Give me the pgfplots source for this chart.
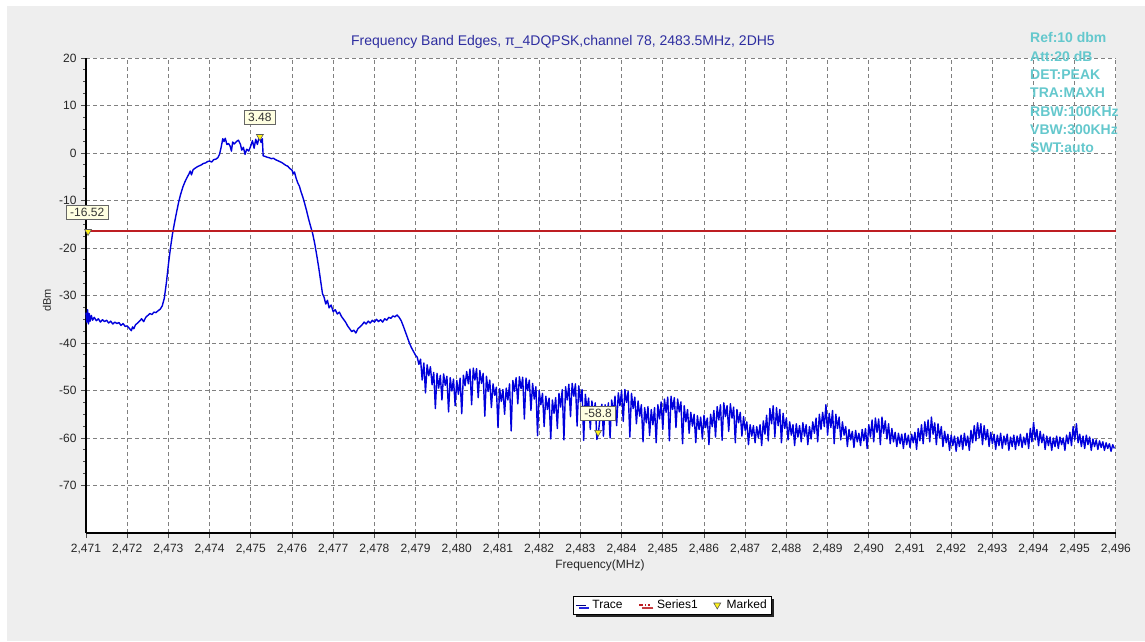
\documentclass[border=0pt]{standalone}
\usepackage{fontspec}
\setmainfont{Liberation Sans}
\usepackage{pgfplots}
\pgfplotsset{compat=1.18}
\usetikzlibrary{shadows}
\definecolor{bggray}{RGB}{238,238,238}
\definecolor{tracecol}{RGB}{0,0,220}
\definecolor{redline}{RGB}{190,30,35}
\definecolor{titleblue}{RGB}{45,45,160}
\definecolor{annotcol}{RGB}{100,200,205}
\definecolor{tipfill}{RGB}{255,255,225}
\pgfplotsset{
  trleg/.style={legend image code/.code={\draw[##1, line width=1pt, draw=blue!50!black] (0pt,0pt) -- (10pt,0pt);}},
  serleg/.style={legend image code/.code={\draw[##1, line width=1.5pt, dash pattern=on 4pt off 2pt on 1pt off 2pt] (0pt,0pt) -- (11pt,0pt);}},
  mkleg/.style={legend image code/.code={\draw[##1] plot coordinates {(4pt,0pt)};}},
}
\begin{document}
\begin{tikzpicture}
\useasboundingbox (0,0) rectangle (1145pt,641pt);
\fill[white] (0,0) rectangle (1145pt,641pt);
\fill[bggray] (7pt,0) rectangle (1145pt,635pt);
\begin{axis}[
  at={(86pt,108pt)}, anchor=south west,
  scale only axis, width=1030pt, height=475pt,
  xmin=2471, xmax=2496, ymin=-80, ymax=20,
  clip=false,
  axis lines=left,
  axis line style={-, line width=2.4pt, black},
  axis background/.style={fill=white},
  xtick={2471,2472,...,2496},
  ytick={-70,-60,...,20},
  minor x tick num=3, minor y tick num=3,
  tick align=outside, major tick length=5pt, minor tick length=3pt,
  tick style={black!70, line width=0.8pt},
  grid=major,
  major grid style={black!50, dash pattern=on 4pt off 3pt, line width=0.8pt},
  ticklabel style={font=\fontsize{12}{14}\selectfont, text=black!85},
  xticklabel style={yshift=-3pt},
  yticklabel style={xshift=-1pt},
  /pgf/number format/assume math mode=true,
  /pgf/number format/1000 sep={,},
  xlabel={Frequency(MHz)},
  xlabel style={at={(axis description cs:0.499,-0.0674)}, anchor=center, font=\fontsize{12}{14}\selectfont, text=black!85},
  ylabel={dBm},
  ylabel style={at={(axis description cs:-0.038,0.49)}, anchor=center, font=\fontsize{11}{13}\selectfont, text=black!85},
  legend style={at={(0.569,-0.1516)}, anchor=center, legend columns=3,
    draw=black, fill=white, font=\fontsize{12}{14}\selectfont, inner sep=2pt,
    drop shadow={shadow xshift=3pt, shadow yshift=-3pt, fill=black, opacity=0.85},
    /tikz/every odd column/.append style={column sep=4pt},
    /tikz/every even column/.append style={column sep=14pt}},
  legend cell align=left,
]
\addplot[tracecol, line width=1.4pt, line join=round, trleg]
coordinates {
(2471.00,-33.6) (2471.02,-35.6) (2471.04,-33.0) (2471.06,-36.0) (2471.08,-33.8) (2471.10,-35.4)
(2471.13,-34.2) (2471.16,-35.2) (2471.20,-34.6) (2471.25,-35.3) (2471.30,-34.9) (2471.35,-35.6)
(2471.40,-35.1) (2471.45,-35.5) (2471.50,-35.2) (2471.55,-35.8) (2471.60,-35.4) (2471.65,-36.0)
(2471.70,-35.6) (2471.75,-35.9) (2471.80,-35.7) (2471.85,-36.3) (2471.90,-35.9) (2471.95,-36.5)
(2472.00,-36.4) (2472.05,-36.9) (2472.10,-37.4) (2472.13,-36.6) (2472.16,-37.0) (2472.20,-36.2)
(2472.25,-35.8) (2472.30,-35.4) (2472.35,-34.9) (2472.40,-35.5) (2472.45,-34.6) (2472.50,-34.2)
(2472.55,-33.8) (2472.60,-34.0) (2472.65,-33.5) (2472.70,-33.6) (2472.75,-33.2) (2472.80,-32.9)
(2472.85,-32.2) (2472.90,-30.6) (2472.95,-27.4) (2473.00,-23.5) (2473.05,-20.0) (2473.10,-17.0)
(2473.15,-14.6) (2473.20,-12.4) (2473.25,-10.3) (2473.30,-8.6) (2473.35,-7.2) (2473.40,-6.1)
(2473.45,-5.2) (2473.50,-4.4) (2473.53,-3.8) (2473.56,-4.6) (2473.60,-3.5) (2473.65,-3.2)
(2473.70,-2.9) (2473.75,-2.7) (2473.80,-2.5) (2473.85,-2.2) (2473.90,-2.1) (2473.95,-1.8)
(2474.00,-1.7) (2474.05,-1.9) (2474.10,-1.4) (2474.15,-1.3) (2474.20,-1.0) (2474.24,-0.3)
(2474.28,1.2) (2474.32,3.0) (2474.35,2.4) (2474.38,3.1) (2474.42,1.8) (2474.46,2.0)
(2474.50,1.4) (2474.53,0.4) (2474.56,2.3) (2474.60,1.9) (2474.65,2.4) (2474.70,2.7)
(2474.75,1.8) (2474.78,0.6) (2474.82,1.2) (2474.86,-0.3) (2474.90,0.8) (2474.95,0.4)
(2475.00,1.5) (2475.04,2.6) (2475.08,1.0) (2475.12,2.9) (2475.16,1.8) (2475.20,3.3)
(2475.22,3.48) (2475.25,2.2) (2475.28,3.0) (2475.30,-0.6) (2475.34,-0.7) (2475.40,-0.9)
(2475.45,-1.0) (2475.50,-1.2) (2475.55,-1.1) (2475.60,-1.4) (2475.65,-1.6) (2475.70,-1.8)
(2475.75,-2.0) (2475.80,-2.3) (2475.85,-2.6) (2475.90,-2.8) (2475.95,-3.3) (2476.00,-3.6)
(2476.03,-4.4) (2476.06,-4.0) (2476.10,-5.3) (2476.14,-6.3) (2476.18,-7.0) (2476.22,-8.2)
(2476.26,-9.2) (2476.30,-10.4) (2476.35,-12.0) (2476.40,-13.8) (2476.45,-15.4) (2476.50,-16.9)
(2476.55,-19.0) (2476.60,-21.5) (2476.65,-24.2) (2476.70,-27.2) (2476.74,-29.6) (2476.78,-30.4)
(2476.82,-31.8) (2476.86,-31.0) (2476.90,-32.6) (2476.95,-32.0) (2477.00,-33.4) (2477.05,-33.0)
(2477.10,-33.9) (2477.15,-33.5) (2477.20,-34.4) (2477.25,-35.0) (2477.30,-35.6) (2477.35,-36.4)
(2477.40,-37.0) (2477.45,-37.6) (2477.50,-37.3) (2477.55,-37.9) (2477.60,-37.0) (2477.65,-36.6)
(2477.70,-36.2) (2477.75,-35.6) (2477.80,-36.0) (2477.85,-35.4) (2477.90,-35.8) (2477.95,-35.2)
(2478.00,-35.6) (2478.05,-35.0) (2478.10,-35.5) (2478.15,-35.1) (2478.20,-35.6) (2478.25,-34.9)
(2478.30,-35.2) (2478.35,-34.6) (2478.40,-34.8) (2478.45,-34.3) (2478.50,-34.5) (2478.55,-34.1)
(2478.60,-34.6) (2478.65,-35.3) (2478.70,-36.4) (2478.75,-37.6) (2478.80,-38.8) (2478.85,-40.0)
(2478.90,-41.0) (2478.95,-41.8) (2479.00,-42.6)
(2479.04,-43.0) (2479.08,-44.5) (2479.12,-43.4) (2479.16,-47.8) (2479.20,-44.2) (2479.24,-50.5)
(2479.28,-44.6) (2479.32,-46.9) (2479.36,-45.0) (2479.40,-48.8) (2479.44,-46.2) (2479.48,-53.8)
(2479.52,-46.4) (2479.56,-49.5) (2479.60,-46.8) (2479.64,-52.0) (2479.68,-46.5) (2479.72,-48.9)
(2479.76,-47.0) (2479.80,-54.5) (2479.84,-47.3) (2479.88,-50.1) (2479.92,-47.6) (2479.96,-53.2)
(2480.00,-47.9) (2480.04,-50.8) (2480.08,-47.4) (2480.12,-54.9) (2480.16,-46.8) (2480.20,-49.0)
(2480.24,-46.0) (2480.28,-48.6) (2480.32,-45.5) (2480.36,-53.0) (2480.40,-45.3) (2480.44,-47.8)
(2480.48,-45.4) (2480.52,-51.5) (2480.56,-45.8) (2480.60,-48.5) (2480.64,-46.4) (2480.68,-55.4)
(2480.72,-47.0) (2480.76,-50.2) (2480.80,-47.8) (2480.84,-53.6) (2480.88,-48.6) (2480.92,-51.0)
(2480.96,-49.3) (2481.00,-57.8) (2481.04,-49.6) (2481.08,-52.3) (2481.12,-49.8) (2481.16,-55.0)
(2481.20,-49.5) (2481.24,-52.0) (2481.28,-48.6) (2481.32,-58.5) (2481.36,-47.9) (2481.40,-50.2)
(2481.44,-47.3) (2481.48,-52.8) (2481.52,-47.1) (2481.56,-49.6) (2481.60,-47.2) (2481.64,-56.0)
(2481.68,-47.4) (2481.72,-50.0) (2481.76,-47.8) (2481.80,-54.2) (2481.84,-48.5) (2481.88,-51.8)
(2481.92,-49.2) (2481.96,-59.5) (2482.00,-50.0) (2482.04,-53.0) (2482.08,-50.6) (2482.12,-57.6)
(2482.16,-51.2) (2482.20,-54.0) (2482.24,-51.6) (2482.28,-60.2) (2482.32,-52.0) (2482.36,-54.8)
(2482.40,-51.5) (2482.44,-58.0) (2482.48,-50.6) (2482.52,-53.5) (2482.56,-49.8) (2482.60,-60.4)
(2482.64,-49.2) (2482.68,-52.0) (2482.72,-48.7) (2482.76,-55.5) (2482.80,-48.5) (2482.84,-51.2)
(2482.88,-48.6) (2482.92,-57.5) (2482.96,-49.0) (2483.00,-52.4) (2483.04,-49.8) (2483.08,-60.5)
(2483.12,-50.8) (2483.16,-54.0) (2483.20,-51.6) (2483.24,-58.2) (2483.28,-52.2) (2483.32,-55.6)
(2483.36,-52.6) (2483.40,-60.3) (2483.44,-58.8) (2483.48,-55.2) (2483.52,-52.9) (2483.56,-59.6)
(2483.60,-53.0) (2483.64,-56.0) (2483.68,-52.6) (2483.72,-60.0) (2483.76,-52.0) (2483.80,-55.0)
(2483.84,-51.2) (2483.88,-57.4) (2483.92,-50.5) (2483.96,-53.2) (2484.00,-50.0) (2484.04,-56.5)
(2484.08,-49.8) (2484.12,-52.5) (2484.16,-50.2) (2484.20,-59.8) (2484.24,-50.6) (2484.28,-53.8)
(2484.32,-51.4) (2484.36,-57.0) (2484.40,-52.2) (2484.44,-55.4) (2484.48,-53.0) (2484.52,-60.8)
(2484.56,-53.6) (2484.60,-56.8) (2484.64,-53.4) (2484.68,-59.5) (2484.72,-54.0) (2484.76,-57.2)
(2484.80,-53.6) (2484.84,-61.0) (2484.88,-53.0) (2484.92,-56.0) (2484.96,-52.4) (2485.00,-58.2)
(2485.04,-51.8) (2485.08,-54.6) (2485.12,-51.4) (2485.16,-60.6) (2485.20,-51.2) (2485.24,-54.0)
(2485.28,-51.5) (2485.32,-57.8) (2485.36,-51.8) (2485.40,-54.5) (2485.44,-52.4) (2485.48,-61.2)
(2485.52,-53.2) (2485.56,-56.6) (2485.60,-54.0) (2485.64,-59.0) (2485.68,-54.6) (2485.72,-57.5)
(2485.76,-55.0) (2485.80,-61.0) (2485.84,-55.3) (2485.88,-58.2) (2485.92,-55.6) (2485.96,-60.2)
(2486.00,-55.2) (2486.04,-57.8) (2486.08,-55.8) (2486.12,-61.4) (2486.16,-55.0) (2486.20,-57.6)
(2486.24,-54.2) (2486.28,-59.8) (2486.32,-53.4) (2486.36,-56.2) (2486.40,-53.0) (2486.44,-60.5)
(2486.48,-52.6) (2486.52,-55.5) (2486.56,-53.2) (2486.60,-58.6) (2486.64,-52.8) (2486.68,-55.8)
(2486.72,-53.5) (2486.76,-61.0) (2486.80,-54.0) (2486.84,-56.8) (2486.88,-54.6) (2486.92,-59.6)
(2486.96,-55.5) (2487.00,-58.4) (2487.04,-56.6) (2487.08,-61.4) (2487.12,-57.2) (2487.16,-59.6)
(2487.20,-57.4) (2487.24,-61.0) (2487.28,-57.6) (2487.32,-60.0) (2487.36,-57.2) (2487.40,-61.6)
(2487.44,-56.4) (2487.48,-59.2) (2487.52,-55.2) (2487.56,-60.6) (2487.60,-53.8) (2487.64,-57.0)
(2487.68,-53.2) (2487.72,-59.8) (2487.76,-53.6) (2487.80,-57.4) (2487.84,-54.0) (2487.88,-61.0)
(2487.92,-54.8) (2487.96,-58.0) (2488.00,-55.8) (2488.04,-60.4) (2488.08,-56.6) (2488.12,-59.4)
(2488.16,-57.2) (2488.20,-61.6) (2488.24,-57.0) (2488.28,-59.8) (2488.32,-57.4) (2488.36,-60.8)
(2488.40,-56.8) (2488.44,-59.6) (2488.48,-57.2) (2488.52,-61.4) (2488.56,-57.6) (2488.60,-60.2)
(2488.64,-56.6) (2488.68,-59.0) (2488.72,-55.8) (2488.76,-60.8) (2488.80,-55.0) (2488.84,-58.2)
(2488.88,-54.6) (2488.92,-57.6) (2488.96,-53.0) (2489.00,-59.4) (2489.04,-54.8) (2489.08,-57.8)
(2489.12,-54.2) (2489.16,-61.2) (2489.20,-55.0) (2489.24,-58.0) (2489.28,-55.6) (2489.32,-60.4)
(2489.36,-56.6) (2489.40,-59.4) (2489.44,-57.6) (2489.48,-61.8) (2489.52,-58.2) (2489.56,-60.4)
(2489.60,-58.6) (2489.64,-62.0) (2489.68,-58.4) (2489.72,-60.8) (2489.76,-59.0) (2489.80,-61.6)
(2489.84,-58.2) (2489.88,-60.6) (2489.92,-58.0) (2489.96,-62.2) (2490.00,-57.2) (2490.04,-59.8)
(2490.08,-56.2) (2490.12,-60.8) (2490.16,-55.8) (2490.20,-58.8) (2490.24,-56.0) (2490.28,-61.4)
(2490.32,-55.6) (2490.36,-59.0) (2490.40,-56.4) (2490.44,-60.2) (2490.48,-57.0) (2490.52,-61.2)
(2490.56,-58.0) (2490.60,-60.8) (2490.64,-58.8) (2490.68,-61.8) (2490.72,-59.0) (2490.76,-61.2)
(2490.80,-59.2) (2490.84,-62.2) (2490.88,-59.0) (2490.92,-61.4) (2490.96,-59.4) (2491.00,-62.0)
(2491.04,-59.2) (2491.08,-61.0) (2491.12,-58.8) (2491.16,-62.4) (2491.20,-58.0) (2491.24,-60.6)
(2491.28,-57.2) (2491.32,-61.2) (2491.36,-56.6) (2491.40,-59.6) (2491.44,-56.2) (2491.48,-60.8)
(2491.52,-55.6) (2491.56,-59.2) (2491.60,-56.8) (2491.64,-61.4) (2491.68,-57.0) (2491.72,-60.0)
(2491.76,-57.6) (2491.80,-61.8) (2491.84,-58.6) (2491.88,-61.0) (2491.92,-59.2) (2491.96,-62.6)
(2492.00,-59.4) (2492.04,-61.6) (2492.08,-59.6) (2492.12,-62.8) (2492.16,-59.8) (2492.20,-61.8)
(2492.24,-59.4) (2492.28,-62.4) (2492.32,-59.0) (2492.36,-61.6) (2492.40,-59.6) (2492.44,-62.6)
(2492.48,-58.4) (2492.52,-61.0) (2492.56,-57.4) (2492.60,-60.6) (2492.64,-56.8) (2492.68,-60.0)
(2492.72,-57.0) (2492.76,-61.4) (2492.80,-57.4) (2492.84,-60.4) (2492.88,-58.2) (2492.92,-61.8)
(2492.96,-58.8) (2493.00,-61.2) (2493.04,-59.2) (2493.08,-62.4) (2493.12,-59.4) (2493.16,-61.6)
(2493.20,-59.0) (2493.24,-62.2) (2493.28,-59.6) (2493.32,-61.4) (2493.36,-59.2) (2493.40,-62.6)
(2493.44,-59.8) (2493.48,-61.8) (2493.52,-59.4) (2493.56,-62.4) (2493.60,-59.6) (2493.64,-61.6)
(2493.68,-59.2) (2493.72,-62.0) (2493.76,-59.8) (2493.80,-61.4) (2493.84,-59.0) (2493.88,-62.2)
(2493.92,-58.0) (2493.96,-60.8) (2494.00,-56.7) (2494.04,-60.4) (2494.08,-58.2) (2494.12,-61.6)
(2494.16,-58.6) (2494.20,-61.0) (2494.24,-59.2) (2494.28,-62.4) (2494.32,-59.6) (2494.36,-61.6)
(2494.40,-59.8) (2494.44,-62.6) (2494.48,-60.0) (2494.52,-61.8) (2494.56,-59.6) (2494.60,-62.2)
(2494.64,-59.8) (2494.68,-61.4) (2494.72,-60.0) (2494.76,-62.6) (2494.80,-59.4) (2494.84,-61.2)
(2494.88,-58.8) (2494.92,-61.6) (2494.96,-57.6) (2495.00,-60.4) (2495.04,-57.0) (2495.08,-61.0)
(2495.12,-59.2) (2495.16,-61.8) (2495.20,-59.6) (2495.24,-62.2) (2495.28,-59.4) (2495.32,-61.4)
(2495.36,-59.8) (2495.40,-62.6) (2495.44,-60.2) (2495.48,-61.8) (2495.52,-60.4) (2495.56,-62.4)
(2495.60,-60.6) (2495.64,-62.0) (2495.68,-60.8) (2495.72,-62.6) (2495.76,-61.0) (2495.80,-62.2)
(2495.84,-61.2) (2495.88,-62.8) (2495.92,-61.4) (2495.96,-62.2)
};
\addlegendentry{Trace}
\addplot[redline, line width=2pt, serleg]
coordinates {(2471,-16.52) (2496,-16.52)};
\addlegendentry{Series1}
\addplot[only marks, mark=triangle*, mark size=4pt,
  mark options={rotate=180, fill=yellow!90!white, draw=black!65, line width=0.6pt}, mkleg]
coordinates {(2475.22,3.48) (2483.43,-58.8) (2471.05,-16.52)};
\addlegendentry{Marked}
\tikzset{tip/.style={fill=tipfill, draw=black!60, line width=0.6pt, font=\fontsize{12}{14}\selectfont, text=black!80, inner xsep=4pt, inner ysep=2.5pt}}
\node[tip, yshift=19pt] at (axis cs:2475.22,3.48) {3.48};
\node[tip, yshift=19pt] at (axis cs:2483.43,-58.8) {-58.8};
\node[tip, yshift=19pt] at (axis cs:2471.03,-16.52) {-16.52};
\end{axis}
\node[anchor=base, font=\fontsize{14}{16}\selectfont, text=titleblue] at (563pt,595pt) {Frequency Band Edges, π\_4DQPSK,channel 78, 2483.5MHz, 2DH5};
\begin{scope}[every node/.style={anchor=base west, inner sep=0pt, font=\fontsize{14}{16}\selectfont\bfseries, text=annotcol}]
\node at (1030pt,598pt) {Ref:10 dbm};
\node at (1030pt,579.67pt) {Att:20 dB};
\node at (1030pt,561.33pt) {DET:PEAK};
\node at (1030pt,543pt) {TRA:MAXH};
\node at (1030pt,524.67pt) {RBW:100KHz};
\node at (1030pt,506.33pt) {VBW:300KHz};
\node at (1030pt,488pt) {SWT:auto};
\end{scope}
\end{tikzpicture}
\end{document}
